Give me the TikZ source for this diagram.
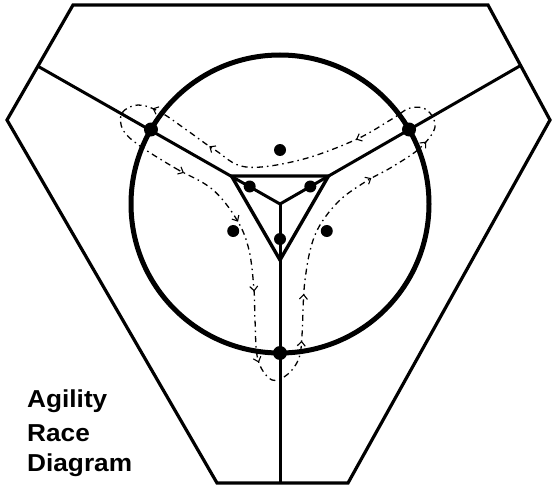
\documentclass[tikz,border=0pt]{standalone}
\usepackage{fontspec}
\newfontfamily\labelfont[FakeStretch=1.07]{Liberation Sans}
\usetikzlibrary{arrows.meta,decorations.markings,calc}
\tikzset{
  fence/.style   = {line width=3.2pt, line join=miter},
  spoke/.style   = {line width=3pt},
  ring/.style    = {line width=5pt},
  cone/.style    = {circle, fill=black, inner sep=0pt, minimum size=#1},
  cone/.default  = 12pt,
  runline/.style = {line width=1.3pt, dash pattern=on 6pt off 4pt on 1.5pt off 4pt},
  runhead/.tip   = {Straight Barb[length=4.5pt,width=8pt,line width=1.1pt]},
  title/.style   = {anchor=base west, inner sep=0pt,
                    font=\labelfont\bfseries\fontsize{24.5}{24.5}\selectfont}
}

\begin{document}
\begin{tikzpicture}[x=1pt,y=-1pt]
\useasboundingbox (0,0) rectangle (552,487);

% --- outer ring fence -----------------------------------------------------
\draw[fence] (73,5) -- (488,5) -- (550,120) -- (348,483)
             -- (217,483) -- (7,120) -- cycle;

% --- centre of the course and the three spokes ---------------------------
\coordinate (hub) at (280,204);
\coordinate (endL) at (37.5,66);
\coordinate (endR) at (521.5,65);
\coordinate (endB) at (280,483);
\draw[spoke] (endL) -- (hub) -- (endR);
\draw[spoke] (hub) -- (endB);

% --- ring and inner triangle (y runs downwards, so angles turn clockwise)
\draw[ring] (hub) circle (149);
\draw[spoke, line width=3.4pt] ($(hub)+(210:56)$) -- ($(hub)+(330:56)$)
      -- ($(hub)+(90:56)$) -- cycle;

% --- cones ----------------------------------------------------------------
\foreach \a/\nm in {210/L, 330/R, 90/B} {
  \node[cone=14pt] (gate\nm) at ($(hub)+(\a:149)$) {};
  \node[cone] (inner\nm) at ($(hub)+(\a:35)$) {};
}
\foreach \a/\nm in {270/T, 150/L, 30/R}
  \node[cone] (outer\nm) at ($(hub)+(\a:54)$) {};

% --- the run round the course ---------------------------------------------
\draw[runline, postaction={decorate}, decoration={markings,
      mark=at position 0.010 with {\arrow{runhead}},
      mark=at position 0.083 with {\arrow{runhead}},
      mark=at position 0.154 with {\arrow{runhead}},
      mark=at position 0.224 with {\arrow{runhead}},
      mark=at position 0.300 with {\arrow{runhead}},
      mark=at position 0.346 with {\arrow{runhead}},
      mark=at position 0.485 with {\arrow{runhead}},
      mark=at position 0.550 with {\arrow{runhead}},
      mark=at position 0.665 with {\arrow{runhead}},
      mark=at position 0.819 with {\arrow{runhead}},
      mark=at position 0.886 with {\arrow{runhead}}}]
  plot[smooth cycle, tension=0.6] coordinates {
    (140,146) (175,168) (212,189) (237,220) (249,250) (254,290)
    (255,320) (258,360) (272,380) (288,374) (299,358) (302,335)
    (305,280) (315,235) (337,203) (365,182) (392,167) (420,148)
    (435,127) (427,110) (410,108) (392,119) (355,140) (300,160)
    (246,167) (215,150) (188,131) (160,112) (138,105) (122,113)
    (123,130)};

% --- title ----------------------------------------------------------------
\node[title] (titleA) at (27,407) {Agility};
\node[title] (titleB) at (27,441) {Race};
\node[title] (titleC) at (27,471) {Diagram};

\end{tikzpicture}
\end{document}
